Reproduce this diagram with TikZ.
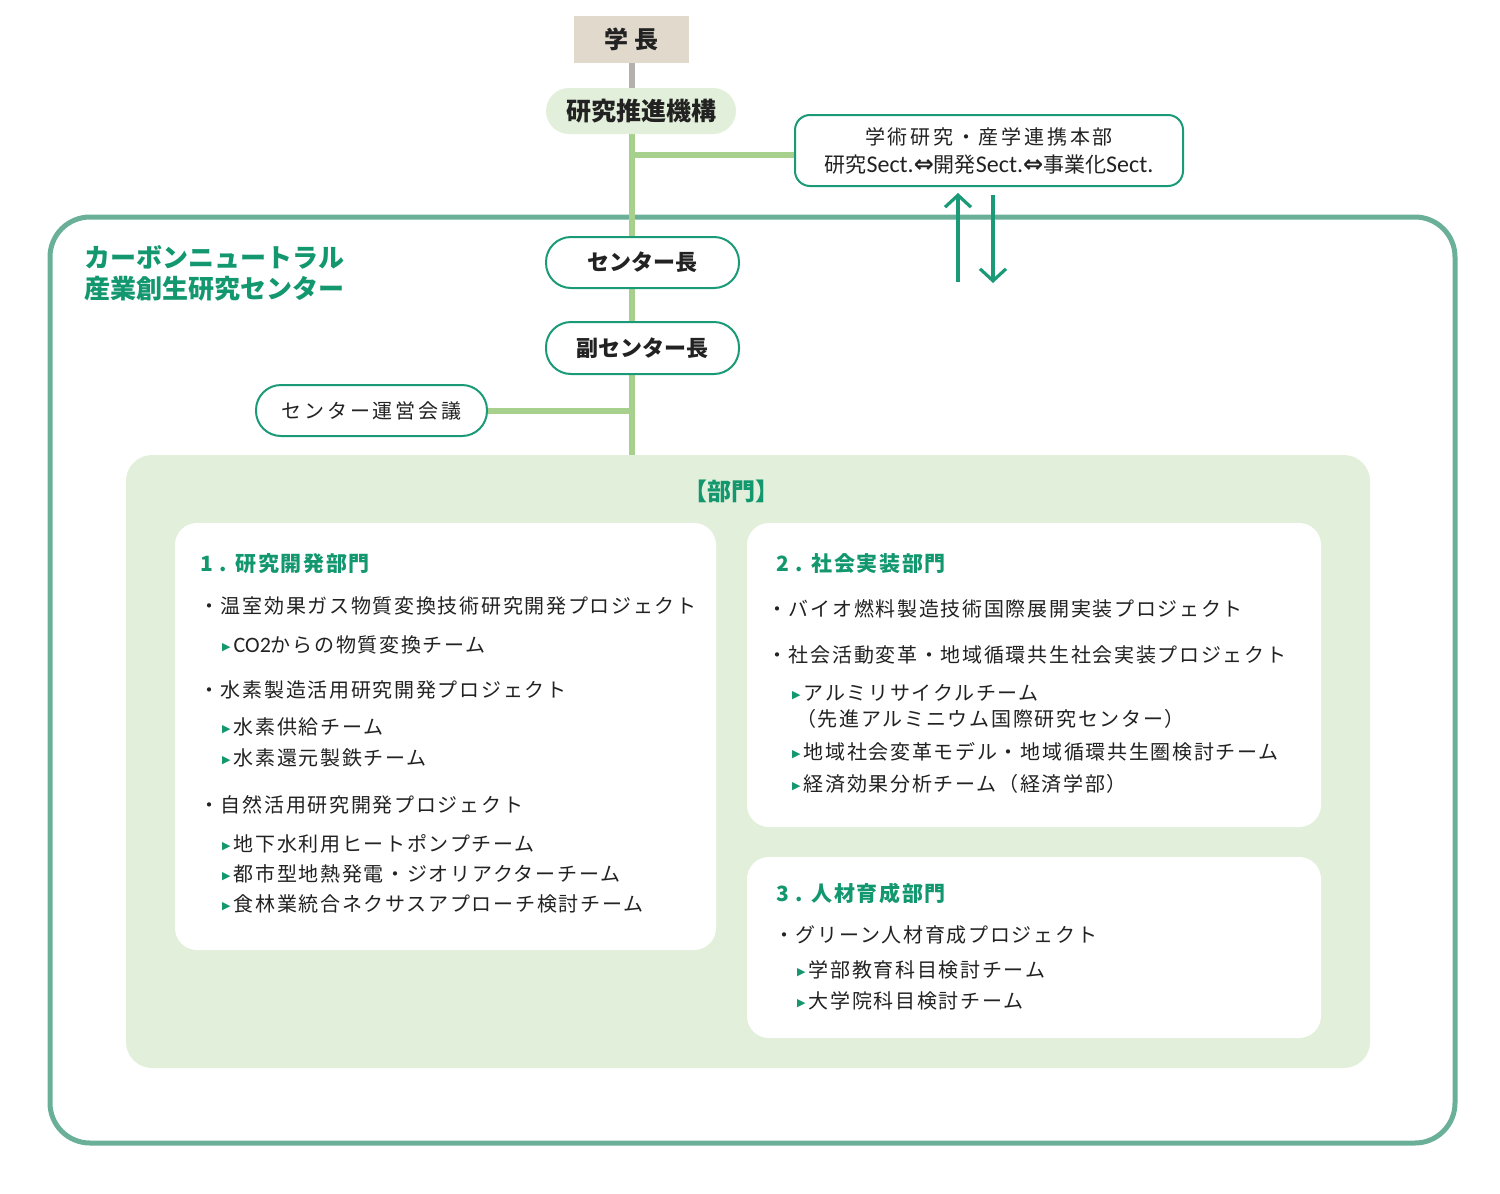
\documentclass[tikz,border=0pt]{standalone}
\usepackage{fontspec}
\usetikzlibrary{arrows.meta}
\setmainfont{Noto Sans CJK JP}
\newfontfamily\bodyfam{Noto Sans CJK JP}[LetterSpace=8.5]
\newfontfamily\headfam{Noto Sans CJK JP}[LetterSpace=8]
\newfontfamily\wfam{Noto Sans CJK JP}[LetterSpace=14]
\newfontfamily\latfam{Carlito}
\newfontfamily\symfam{DejaVu Sans}
\definecolor{frame}{HTML}{6AB098}
\definecolor{edge}{HTML}{1A9A76}
\definecolor{tgreen}{HTML}{12976F}
\definecolor{spine}{HTML}{A8D08D}
\definecolor{pale}{HTML}{E2EFDA}
\definecolor{beige}{HTML}{E0D9CC}
\definecolor{greyline}{HTML}{B4B0AE}
\definecolor{ink}{HTML}{222222}
\newcommand\bodyf{\bodyfam\fontsize{20}{24}\selectfont}
\newcommand\headf{\headfam\bfseries\fontsize{21}{25}\selectfont}
\newcommand\tri{{\symfam\fontsize{11}{11}\selectfont\color{tgreen}\raisebox{2.5pt}{▶}}\hspace{3pt}}
\newcommand\dbl{{\symfam\bfseries\fontsize{24}{28}\selectfont ⇔}}
\pgfdeclarelayer{back}
\pgfdeclarelayer{mid}
\pgfsetlayers{back,mid,main}
\tikzset{
  pill/.style={draw=edge, line width=2pt, fill=white, rounded corners=25pt, inner sep=0, text=ink},
  panel/.style={fill=white, rounded corners=22pt, inner sep=0},
  body/.style={anchor=west, inner sep=0, text=ink, font=\bodyf},
  head/.style={anchor=west, inner sep=0, text=tgreen, font=\headf},
  spineline/.style={draw=spine, line width=6pt},
  greyconn/.style={draw=greyline, line width=6pt},
  arr/.style={draw=edge, line width=3.2pt, -{Straight Barb[length=12pt,width=26pt]}}
}
\begin{document}
\begin{tikzpicture}[x=1pt,y=-1pt]
\useasboundingbox (0,0) rectangle (1500,1194);
\begin{pgfonlayer}{back}
\node[draw=frame,line width=5pt,rounded corners=40pt,minimum width=1405pt,minimum height=926pt,inner sep=0] (outer) at (752.5,680) {};
\node[fill=pale,rounded corners=26pt,minimum width=1244pt,minimum height=613pt,inner sep=0] (area) at (748,761.5) {};
\node[panel,minimum width=541pt,minimum height=427pt] (b1) at (445.5,736.5) {};
\node[panel,minimum width=574pt,minimum height=304pt] (b2) at (1034,675) {};
\node[panel,minimum width=574pt,minimum height=181pt] (b3) at (1034,947.5) {};
\end{pgfonlayer}

% top nodes
\node[fill=beige,minimum width=115pt,minimum height=47pt,inner sep=0,text=ink,font=\bfseries\fontsize{24}{24}\selectfont] (gakucho) at (631.5,39.5) {学 長};
\node[fill=pale,rounded corners=23pt,minimum width=190pt,minimum height=46pt,inner sep=0,text=ink,font=\bfseries\fontsize{25}{25}\selectfont] (kikou) at (641,111) {研究推進機構};
\node[draw=edge,line width=2pt,fill=white,rounded corners=15pt,minimum width=388pt,minimum height=71pt,inner sep=0,align=center,text=ink,font=\fontsize{20}{28}\selectfont] (honbu) at (989,150.5) {{\wfam 学術研究・産学連携本部}\\{\fontsize{21}{28}\selectfont 研究{\latfam\fontsize{24}{28}\selectfont Sect.}\dbl 開発{\latfam\fontsize{24}{28}\selectfont Sect.}\dbl 事業化{\latfam\fontsize{24}{28}\selectfont Sect.}}};
\node[anchor=west,inner sep=0,text=tgreen,font=\bfseries\fontsize{26}{26}\selectfont] (title1) at (84,257) {カーボンニュートラル};
\node[anchor=west,inner sep=0,text=tgreen,font=\bfseries\fontsize{26}{26}\selectfont] (title2) at (84,289) {産業創生研究センター};
\node[pill,minimum width=193pt,minimum height=51pt,font=\bfseries\fontsize{22}{22}\selectfont] (cl) at (642.5,262.5) {センター長};
\node[pill,minimum width=193pt,minimum height=52pt,font=\bfseries\fontsize{22}{22}\selectfont] (vcl) at (642.5,348) {副センター長};
\node[pill,minimum width=231pt,minimum height=51pt,font=\wfam\fontsize{20}{20}\selectfont] (kaigi) at (371.5,410.5) {センター運営会議};
\node[inner sep=0,text=tgreen,font=\bfseries\fontsize{24}{24}\selectfont] (bumon) at (731,491) {【部門】};

% connectors
\coordinate (j1) at (632,155);
\coordinate (up0) at (958,282);
\coordinate (dn1) at (993,283);
\begin{pgfonlayer}{mid}
\draw[greyconn] (gakucho.south) -- (gakucho.south |- kikou.north);
\draw[spineline] (gakucho.south |- kikou.south) -- (gakucho.south |- area.north);
\draw[spineline] (j1) -- (j1 -| honbu.west);
\draw[spineline] (kaigi.east) -- (kaigi.east -| j1);
\end{pgfonlayer}
\draw[arr] (up0) -- ([yshift=-6pt]up0 |- honbu.south);
\draw[arr] ([yshift=-8pt]dn1 |- honbu.south) -- (dn1);

% box 1
\node[head] (h1) at (200,564) {1 . 研究開発部門};
\node[body] (p11) at (199,606) {・温室効果ガス物質変換技術研究開発プロジェクト};
\node[body] (t111) at (222,645) {\tri{\latfam\fontsize{22}{22}\selectfont CO2}からの物質変換チーム};
\node[body] (p12) at (199,690) {・水素製造活用研究開発プロジェクト};
\node[body] (t121) at (222,727) {\tri 水素供給チーム};
\node[body] (t122) at (222,758) {\tri 水素還元製鉄チーム};
\node[body] (p13) at (199,805) {・自然活用研究開発プロジェクト};
\node[body] (t131) at (222,844) {\tri 地下水利用ヒートポンプチーム};
\node[body] (t132) at (222,874) {\tri 都市型地熱発電・ジオリアクターチーム};
\node[body] (t133) at (222,904) {\tri 食林業統合ネクサスアプローチ検討チーム};

% box 2
\node[head] (h2) at (776,564) {2 . 社会実装部門};
\node[body] (p21) at (767,609) {・バイオ燃料製造技術国際展開実装プロジェクト};
\node[body] (p22) at (767,655) {・社会活動変革・地域循環共生社会実装プロジェクト};
\node[body] (t221) at (792,693) {\tri アルミリサイクルチーム};
\node[body] (t221b) at (796,719) {（先進アルミニウム国際研究センター）};
\node[body] (t222) at (792,752) {\tri 地域社会変革モデル・地域循環共生圏検討チーム};
\node[body] (t223) at (792,784) {\tri 経済効果分析チーム（経済学部）};

% box 3
\node[head] (h3) at (776,893) {3 . 人材育成部門};
\node[body] (p31) at (774,935) {・グリーン人材育成プロジェクト};
\node[body] (t311) at (797,970) {\tri 学部教育科目検討チーム};
\node[body] (t312) at (797,1001) {\tri 大学院科目検討チーム};
\end{tikzpicture}
\end{document}
